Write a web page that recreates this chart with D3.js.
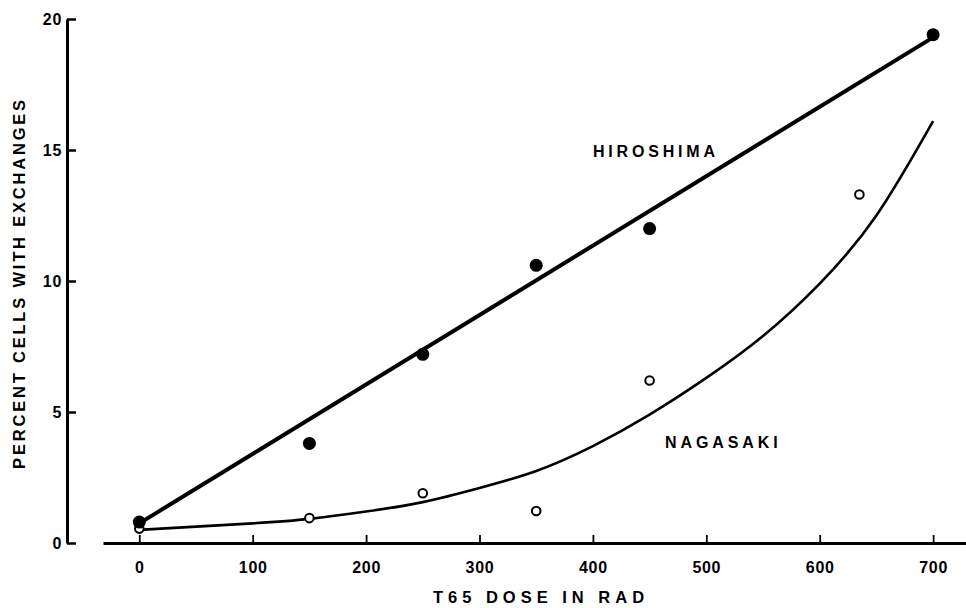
<!DOCTYPE html>
<html>
<head>
<meta charset="utf-8">
<script src="https://cdn.jsdelivr.net/npm/d3@7"></script>
<style>
  html, body { margin: 0; padding: 0; background: #fff; }
  svg { display: block; }
  text { font-family: "Liberation Sans", Arial, Helvetica, sans-serif; font-weight: bold; fill: #000; }
</style>
</head>
<body>
<svg id="chart" width="966" height="608"></svg>
<script>
// ---- data ----
const xTicks = [0, 100, 200, 300, 400, 500, 600, 700];
const yTicks = [0, 5, 10, 15, 20];

const hiroshimaDose = [0, 150, 250, 350, 450, 700];
const hiroshimaPct  = [0.8, 3.8, 7.2, 10.6, 12.0, 19.4];
const hiroshimaFitDose = [0, 700];
const hiroshimaFitPct  = [0.75, 19.3];

const nagasakiDose = [0, 150, 250, 350, 450, 635];
const nagasakiPct  = [0.55, 0.95, 1.9, 1.22, 6.2, 13.3];
const nagasakiFitDose = [0, 100, 150, 200, 250, 300, 350, 400, 450, 500, 550, 600, 650, 700];
const nagasakiFitPct  = [0.5, 0.75, 0.92, 1.2, 1.56, 2.1, 2.75, 3.7, 4.9, 6.3, 7.9, 9.9, 12.5, 16.1];

const xTitle = "T65 DOSE IN RAD";
const yTitle = "PERCENT CELLS WITH EXCHANGES";
const labelHiroshima = "HIROSHIMA";
const labelNagasaki = "NAGASAKI";

// ---- layout ----
const svg = d3.select("#chart");
const x = d3.scaleLinear().domain([-32, 729]).range([103, 966]);
const y = d3.scaleLinear().domain([0, 20]).range([543, 19]);
const yAxisX = 67;

// x axis
const gx = svg.append("g").attr("transform", `translate(0,${y(0)})`)
  .call(d3.axisBottom(x).tickValues(xTicks).tickSizeInner(-8).tickSizeOuter(0).tickFormat(d3.format("d")));
gx.select(".domain").attr("stroke", "#000").attr("stroke-width", 3);
gx.selectAll(".tick line").attr("stroke", "#000").attr("stroke-width", 1.8);
gx.selectAll(".tick text").attr("y", 30).attr("dy", 0)
  .style("font-size", "16px").style("letter-spacing", "0.7px").attr("fill", "#000");

// y axis
const gy = svg.append("g").attr("transform", `translate(${yAxisX},0)`)
  .call(d3.axisLeft(y).tickValues(yTicks).tickSizeInner(-9).tickSizeOuter(0).tickPadding(5));
gy.select(".domain").attr("stroke", "#000").attr("stroke-width", 3);
gy.selectAll(".tick line").attr("stroke", "#000").attr("stroke-width", 2.5);
gy.selectAll(".tick text").style("font-size", "16px").style("letter-spacing", "0.7px").attr("fill", "#000");

// axis titles
svg.append("text")
  .attr("x", 541).attr("y", 603)
  .attr("text-anchor", "middle")
  .style("font-size", "16.5px").style("letter-spacing", "5px")
  .text(xTitle);

svg.append("text")
  .attr("transform", `translate(25,${283}) rotate(-90)`)
  .attr("text-anchor", "middle")
  .style("font-size", "16.5px").style("letter-spacing", "2.8px")
  .text(yTitle);

// Hiroshima fit line
const hiroFit = hiroshimaFitDose.map((d, i) => [d, hiroshimaFitPct[i]]);
svg.append("path")
  .datum(hiroFit)
  .attr("fill", "none").attr("stroke", "#000").attr("stroke-width", 4)
  .attr("d", d3.line().x(d => x(d[0])).y(d => y(d[1])));

// Nagasaki fit curve
const nagaFit = nagasakiFitDose.map((d, i) => [d, nagasakiFitPct[i]]);
svg.append("path")
  .datum(nagaFit)
  .attr("fill", "none").attr("stroke", "#000").attr("stroke-width", 2.6)
  .attr("d", d3.line().x(d => x(d[0])).y(d => y(d[1])).curve(d3.curveNatural));

// Nagasaki points (open)
svg.append("g").selectAll("circle")
  .data(nagasakiDose.map((d, i) => [d, nagasakiPct[i]]))
  .join("circle")
  .attr("cx", d => x(d[0])).attr("cy", d => y(d[1]))
  .attr("r", 4.3).attr("fill", "#fff").attr("stroke", "#000").attr("stroke-width", 2);

// Hiroshima points (filled)
svg.append("g").selectAll("circle")
  .data(hiroshimaDose.map((d, i) => [d, hiroshimaPct[i]]))
  .join("circle")
  .attr("cx", d => x(d[0])).attr("cy", d => y(d[1]))
  .attr("r", 6.5).attr("fill", "#000");

// series labels
svg.append("text")
  .attr("x", 593).attr("y", 157)
  .style("font-size", "16px").style("letter-spacing", "3.8px")
  .text(labelHiroshima);

svg.append("text")
  .attr("x", 665).attr("y", 448)
  .style("font-size", "16px").style("letter-spacing", "3.9px")
  .text(labelNagasaki);
</script>
</body>
</html>
